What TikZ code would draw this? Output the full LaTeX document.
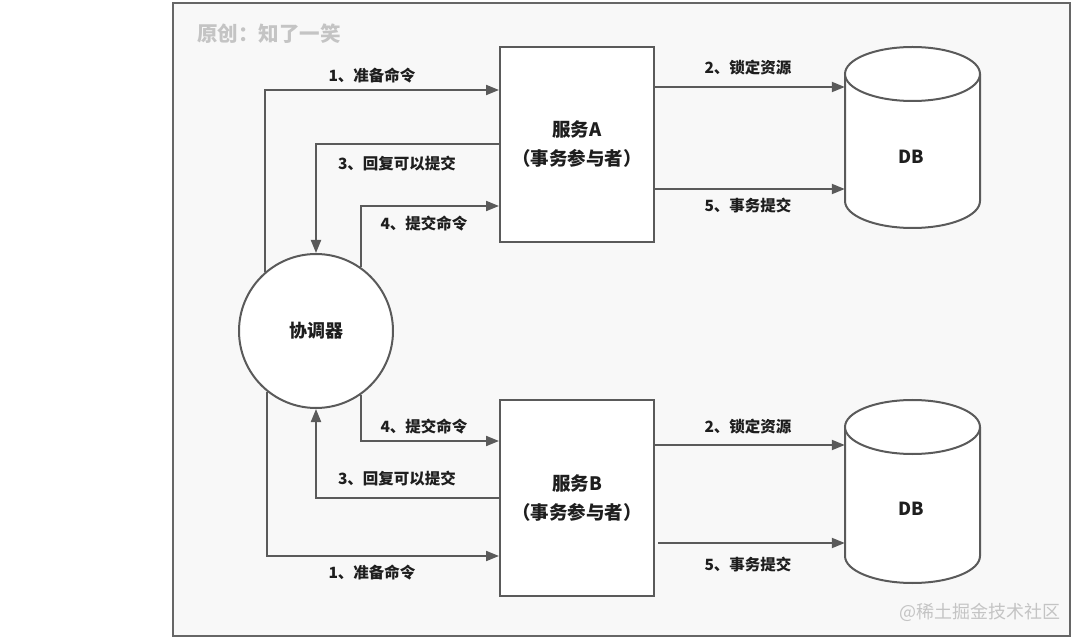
\documentclass[tikz,border=0pt]{standalone}
\usepackage{fontspec}
\setmainfont{Noto Sans CJK SC}
\usetikzlibrary{arrows.meta}
\definecolor{ln}{HTML}{5A5A5A}
\definecolor{frm}{HTML}{666666}
\definecolor{bgc}{HTML}{F8F8F8}
\definecolor{txt}{HTML}{1E1E1E}
\definecolor{wm}{HTML}{C4C4C4}
\begin{document}
\begin{tikzpicture}[x=1pt,y=1pt,
  arr/.style={draw=ln,line width=2pt,-{Triangle[length=13pt,width=10pt]}},
  lbl/.style={text=txt,font=\fontsize{15.5}{18}\selectfont\bfseries,inner sep=0pt},
  svc/.style={draw=ln,line width=2pt,fill=white,minimum width=154,minimum height=195,inner sep=0pt,
    align=center,text=txt,font=\fontsize{18.5}{29}\selectfont\bfseries},
  coord/.style={circle,draw=ln,line width=2pt,fill=white,minimum size=154,inner sep=0pt,
    text=txt,font=\fontsize{18}{20}\selectfont\bfseries},
  dbbox/.style={minimum width=135,inner sep=0pt},
  cyl/.style={draw=ln,line width=2pt,fill=white},
  dbtxt/.style={text=txt,font=\fontsize{18}{20}\selectfont\bfseries,inner sep=0pt}
]
\useasboundingbox (0,0) rectangle (1080,641);
\fill[white] (0,0) rectangle (1080,641);
\draw[frm,fill=bgc,line width=2.2pt] (173,5) rectangle (1070,638);
\node[anchor=west,text=wm,font=\fontsize{20.5}{23}\selectfont\bfseries,inner sep=0pt] (title) at (197,607) {原创：知了一笑};
\node[anchor=east,text=wm,font=\fontsize{18}{20}\selectfont,inner sep=0pt] (mark) at (1061,29) {@稀土掘金技术社区};

% nodes
\node[svc] (A) at (577,496.5) {服务A\\（事务参与者）};
\node[svc,minimum height=196] (B) at (577,143) {服务B\\（事务参与者）};
\node[coord] (C) at (316,310) {协调器};
\node[dbbox,minimum height=181] (dbA) at (912.5,503.5) {};
\node[dbbox,minimum height=183] (dbB) at (912.5,149.5) {};

% cylinders
\path[cyl] (845,567) -- (845,440)
  .. controls (845,425.1) and (875.2,413) .. (912.5,413)
  .. controls (949.8,413) and (980,425.1) .. (980,440)
  -- (980,567);
\draw[cyl] (912.5,567) ellipse [x radius=67.5, y radius=27];
\path[cyl] (845,214) -- (845,85)
  .. controls (845,70.1) and (875.2,58) .. (912.5,58)
  .. controls (949.8,58) and (980,70.1) .. (980,85)
  -- (980,214);
\draw[cyl] (912.5,214) ellipse [x radius=67.5, y radius=27];
\node[dbtxt] (dbAt) at (911,484) {DB};
\node[dbtxt] (dbBt) at (911,132) {DB};

% coordinator <-> service A
\draw[arr] (C.131.5) |- ([yshift=54.5pt]A.west);
\draw[arr] (A.west) -| (C.north);
\draw[arr] (C.55.2) |- ([yshift=-61.5pt]A.west);
% coordinator <-> service B
\draw[arr] (C.-55.2) |- ([yshift=57pt]B.west);
\draw[arr] (B.west) -| (C.south);
\draw[arr] (C.-129.5) |- ([yshift=-58pt]B.west);
% service -> DB
\draw[arr] ([yshift=57.5pt]A.east) -- ([yshift=57.5pt]A.east -| dbA.west);
\draw[arr] ([yshift=-44.5pt]A.east) -- ([yshift=-44.5pt]A.east -| dbA.west);
\draw[arr] ([yshift=53pt]B.east) -- ([yshift=53pt]B.east -| dbB.west);
\draw[arr] ([xshift=3pt,yshift=-45pt]B.east) -- ([yshift=-45pt]B.east -| dbB.west);

% labels
\node[lbl] (l1a) at (372,565) {1、准备命令};
\node[lbl] (l3a) at (397,477) {3、回复可以提交};
\node[lbl] (l4a) at (424,417) {4、提交命令};
\node[lbl] (l4b) at (424,214) {4、提交命令};
\node[lbl] (l3b) at (397,162) {3、回复可以提交};
\node[lbl] (l1b) at (372,68) {1、准备命令};
\node[lbl] (l2a) at (748,573) {2、锁定资源};
\node[lbl] (l5a) at (748,435) {5、事务提交};
\node[lbl] (l2b) at (748,214) {2、锁定资源};
\node[lbl] (l5b) at (748,76) {5、事务提交};
\end{tikzpicture}
\end{document}
